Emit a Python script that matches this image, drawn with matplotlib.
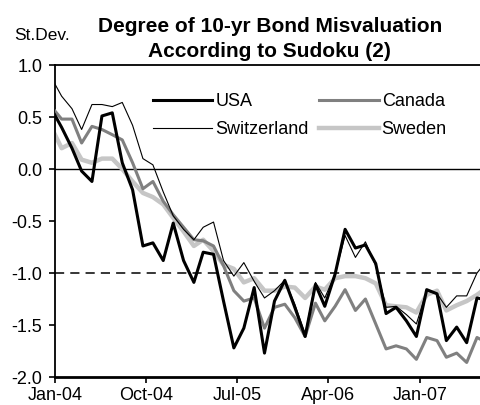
import matplotlib
matplotlib.use('Agg')
import matplotlib.pyplot as plt
import matplotlib.dates as mdates
import pandas as pd

plt.rcParams['font.family'] = ['Liberation Sans', 'DejaVu Sans']

# monthly readings, first one sits just left of the axis start
dates = pd.date_range('2003-12-01', periods=44, freq='MS') + pd.Timedelta(days=20)

usa = [0.58, 0.40, 0.20, -0.02, -0.12, 0.51, 0.54, 0.06, -0.20, -0.74,
       -0.71, -0.88, -0.52, -0.88, -1.09, -0.80, -0.82, -1.27, -1.72, -1.53,
       -1.14, -1.77, -1.27, -1.07, -1.33, -1.61, -1.11, -1.32, -1.01, -0.58,
       -0.76, -0.73, -0.91, -1.39, -1.33, -1.46, -1.61, -1.16, -1.20, -1.65,
       -1.52, -1.67, -1.24, -1.26]

switzerland = [0.88, 0.70, 0.58, 0.38, 0.62, 0.62, 0.60, 0.64, 0.42, 0.10,
               0.04, -0.22, -0.45, -0.58, -0.68, -0.56, -0.51, -0.88, -1.03, -0.90,
               -1.08, -1.24, -1.17, -1.07, -1.30, -1.59, -1.09, -1.24, -1.01, -0.64,
               -0.85, -0.70, -0.93, -1.33, -1.32, -1.40, -1.49, -1.17, -1.20, -1.33,
               -1.22, -1.22, -1.00, -0.88]

canada = [0.60, 0.48, 0.48, 0.25, 0.41, 0.38, 0.33, 0.28, 0.06, -0.19,
          -0.12, -0.31, -0.44, -0.56, -0.68, -0.69, -0.74, -0.93, -1.17, -1.27,
          -1.24, -1.53, -1.33, -1.30, -1.43, -1.61, -1.29, -1.46, -1.32, -1.16,
          -1.36, -1.25, -1.49, -1.73, -1.70, -1.73, -1.83, -1.62, -1.65, -1.81,
          -1.77, -1.86, -1.62, -1.67]

sweden = [0.40, 0.20, 0.25, 0.09, 0.06, 0.10, 0.10, 0.00, -0.12, -0.23,
          -0.27, -0.34, -0.47, -0.60, -0.74, -0.68, -0.79, -0.92, -0.96, -1.09,
          -1.05, -1.17, -1.17, -1.13, -1.14, -1.24, -1.13, -1.16, -1.05, -1.03,
          -1.03, -1.05, -1.10, -1.31, -1.32, -1.33, -1.38, -1.21, -1.17, -1.36,
          -1.31, -1.27, -1.21, -1.14]

tick_dates = pd.to_datetime(['2004-01-01', '2004-10-01', '2005-07-01', '2006-04-01', '2007-01-01'])
y_ticks = [-2.0, -1.5, -1.0, -0.5, 0.0, 0.5, 1.0]

fig = plt.figure(figsize=(4.81, 4.05), dpi=100)
ax = fig.add_axes([0.1143, 0.0691, 0.8857, 0.7704])

ax.axhline(0, color='black', lw=1.0, zorder=1)
ax.axhline(-1, color='black', lw=1.1, dashes=(6, 4), zorder=1)

ax.plot(dates, sweden, color='#c6c6c6', lw=3.2, label='Sweden', zorder=2)
ax.plot(dates, canada, color='#808080', lw=2.2, label='Canada', zorder=3)
ax.plot(dates, switzerland, color='black', lw=0.8, label='Switzerland', zorder=4)
ax.plot(dates, usa, color='black', lw=2.2, label='USA', zorder=5)

ax.set_xlim(pd.Timestamp('2004-01-01'), pd.Timestamp('2007-07-03'))
ax.set_ylim(-2.0, 1.0)
ax.set_xticks(tick_dates)
ax.xaxis.set_major_formatter(mdates.DateFormatter('%b-%y'))
ax.set_yticks(y_ticks)
ax.set_yticklabels([f'{v:.1f}' for v in y_ticks])

ax.spines['right'].set_visible(False)
ax.spines['top'].set_linewidth(1.3)
ax.spines['left'].set_linewidth(1.3)
ax.spines['bottom'].set_linewidth(2.0)
ax.tick_params(axis='y', direction='out', length=4, width=1.2, pad=5, labelsize=13)
ax.tick_params(axis='x', direction='out', length=4.5, width=1.2, pad=3, labelsize=13)

handles, labels = ax.get_legend_handles_labels()
order = [3, 2, 1, 0]  # column-wise: USA, Switzerland | Canada, Sweden
ax.legend([handles[i] for i in order], [labels[i] for i in order], ncol=2,
          frameon=False, fontsize=13, handlelength=3.3, handletextpad=0.15,
          columnspacing=0.6, labelspacing=0.6, borderpad=0,
          loc='upper left', bbox_to_anchor=(0.299, 0.792), bbox_transform=fig.transFigure)

fig.text(0.561, 0.904, 'Degree of 10-yr Bond Misvaluation\nAccording to Sudoku (2)',
         ha='center', va='center', fontsize=15, fontweight='bold', linespacing=1.45)
fig.text(0.03, 0.913, 'St.Dev.', ha='left', va='center', fontsize=12.5)

fig.savefig('out.png', dpi=100)
